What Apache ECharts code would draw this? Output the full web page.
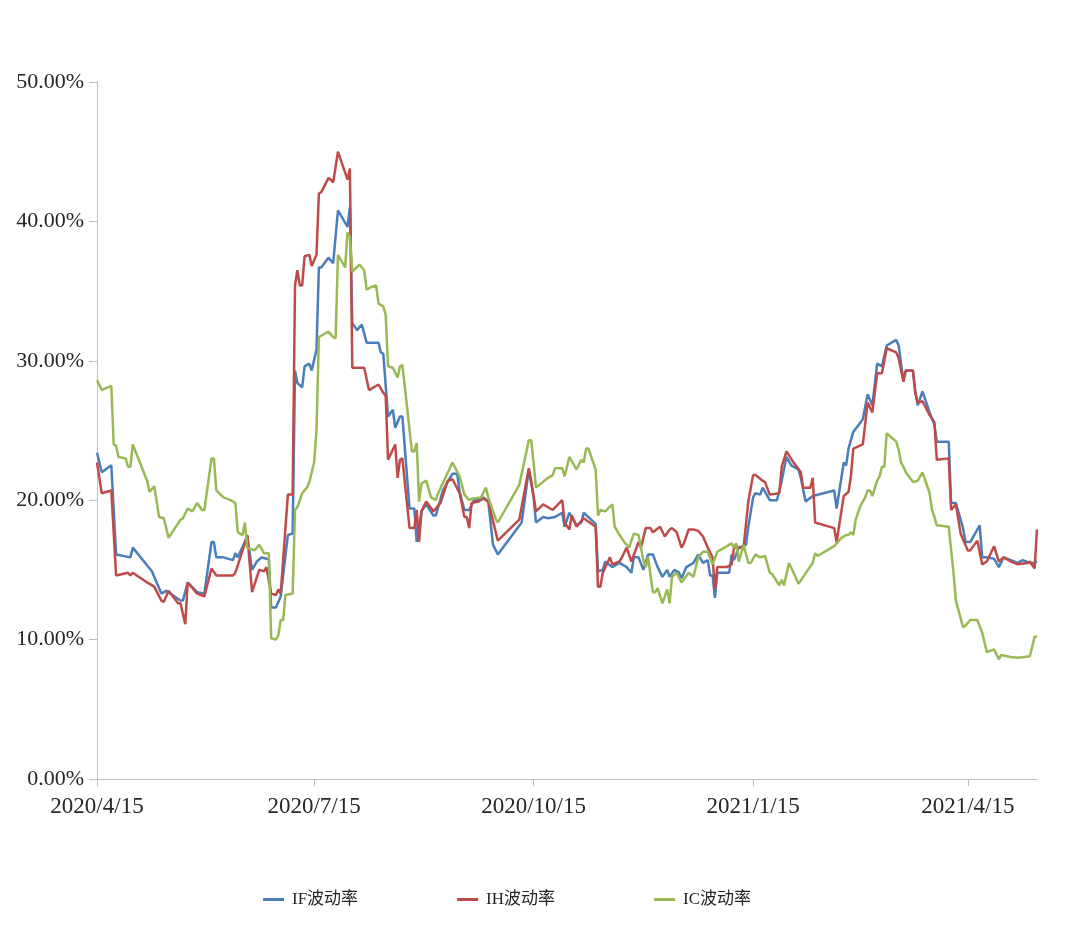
<!DOCTYPE html>
<html>
<head>
<meta charset="utf-8">
<script src="https://cdn.jsdelivr.net/npm/echarts@6/dist/echarts.min.js"></script>
<style>html,body{margin:0;padding:0;background:#fff}#c{width:1080px;height:945px}</style>
</head>
<body>
<div id="c"></div>
<script>
const seriesNames = ['IF波动率', 'IH波动率', 'IC波动率'];
const xTickLabels = ['2020-04-15', '2020-07-15', '2020-10-15', '2021-01-15', '2021-04-15'];
const yTicks = [0, 10, 20, 30, 40, 50];

const ifDates = ['2020-04-15','2020-04-17','2020-04-21','2020-04-23','2020-04-29','2020-04-30','2020-05-08','2020-05-12','2020-05-14','2020-05-20','2020-05-21','2020-05-23','2020-05-27','2020-05-30','2020-06-02','2020-06-03','2020-06-04','2020-06-07','2020-06-11','2020-06-12','2020-06-13','2020-06-17','2020-06-19','2020-06-21','2020-06-23','2020-06-25','2020-06-26','2020-06-27','2020-06-29','2020-07-01','2020-07-04','2020-07-06','2020-07-07','2020-07-08','2020-07-10','2020-07-11','2020-07-13','2020-07-14','2020-07-16','2020-07-17','2020-07-18','2020-07-21','2020-07-23','2020-07-25','2020-07-29','2020-07-30','2020-07-31','2020-08-02','2020-08-04','2020-08-06','2020-08-11','2020-08-12','2020-08-13','2020-08-15','2020-08-17','2020-08-18','2020-08-20','2020-08-21','2020-08-24','2020-08-26','2020-08-27','2020-08-29','2020-08-31','2020-09-03','2020-09-04','2020-09-07','2020-09-11','2020-09-13','2020-09-14','2020-09-16','2020-09-18','2020-09-20','2020-09-23','2020-09-24','2020-09-26','2020-09-28','2020-09-30','2020-10-10','2020-10-13','2020-10-15','2020-10-16','2020-10-19','2020-10-21','2020-10-24','2020-10-27','2020-10-28','2020-10-30','2020-11-02','2020-11-04','2020-11-05','2020-11-10','2020-11-11','2020-11-13','2020-11-14','2020-11-17','2020-11-20','2020-11-23','2020-11-25','2020-11-26','2020-11-28','2020-11-30','2020-12-02','2020-12-04','2020-12-06','2020-12-08','2020-12-10','2020-12-11','2020-12-13','2020-12-15','2020-12-16','2020-12-18','2020-12-21','2020-12-23','2020-12-25','2020-12-27','2020-12-28','2020-12-29','2020-12-30','2020-12-31','2021-01-05','2021-01-06','2021-01-07','2021-01-09','2021-01-12','2021-01-13','2021-01-15','2021-01-16','2021-01-18','2021-01-19','2021-01-22','2021-01-25','2021-01-27','2021-01-29','2021-01-31','2021-02-03','2021-02-04','2021-02-06','2021-02-09','2021-02-18','2021-02-19','2021-02-22','2021-02-23','2021-02-24','2021-02-26','2021-03-02','2021-03-04','2021-03-06','2021-03-08','2021-03-10','2021-03-12','2021-03-16','2021-03-17','2021-03-19','2021-03-20','2021-03-23','2021-03-24','2021-03-25','2021-03-27','2021-03-30','2021-04-01','2021-04-02','2021-04-07','2021-04-08','2021-04-10','2021-04-13','2021-04-14','2021-04-16','2021-04-20','2021-04-21','2021-04-23','2021-04-26','2021-04-28','2021-04-30','2021-05-03','2021-05-06','2021-05-08','2021-05-11','2021-05-13','2021-05-14'];
const ifValues = [23.4,22.0,22.5,16.1,15.9,16.6,14.9,13.3,13.5,12.8,12.8,14.1,13.4,13.3,17.0,17.0,15.9,15.9,15.7,16.2,15.9,17.4,15.0,15.6,15.9,15.8,15.8,12.3,12.3,13.1,17.5,17.6,29.3,28.4,28.1,29.6,29.8,29.3,30.8,36.7,36.7,37.4,37.0,40.8,39.6,41.0,32.7,32.2,32.6,31.3,31.3,30.6,30.5,26.0,26.5,25.2,26.0,26.0,19.4,19.4,17.0,19.2,19.7,18.9,18.9,20.7,21.9,21.9,20.6,19.3,19.3,20.0,20.0,20.2,19.9,16.8,16.1,18.4,22.2,20.2,18.4,18.8,18.7,18.8,19.1,18.1,19.1,18.2,18.4,19.1,18.3,14.9,15.0,15.6,15.2,15.5,15.2,14.8,15.9,15.9,15.0,16.1,16.1,15.2,14.5,15.0,14.5,15.0,14.8,14.4,15.2,15.5,16.1,15.5,15.7,14.6,14.6,13.0,14.8,14.8,16.1,15.7,16.6,16.8,18.1,20.2,20.5,20.4,20.9,20.0,20.0,21.4,23.1,22.5,22.2,21.6,19.9,20.3,20.7,19.4,22.7,22.5,23.7,24.9,25.8,27.6,26.8,29.8,29.6,31.1,31.5,31.1,28.6,29.3,29.3,27.8,26.8,27.8,26.3,25.4,24.2,24.2,19.8,19.8,18.0,17.0,17.0,18.2,15.9,15.9,15.8,15.2,15.9,15.7,15.5,15.7,15.5,15.5,15.6];

const ihDates = ['2020-04-15','2020-04-17','2020-04-21','2020-04-23','2020-04-28','2020-04-29','2020-04-30','2020-05-06','2020-05-09','2020-05-12','2020-05-13','2020-05-15','2020-05-19','2020-05-20','2020-05-22','2020-05-23','2020-05-27','2020-05-30','2020-06-02','2020-06-04','2020-06-07','2020-06-11','2020-06-12','2020-06-16','2020-06-17','2020-06-19','2020-06-22','2020-06-24','2020-06-25','2020-06-27','2020-06-29','2020-06-30','2020-07-01','2020-07-04','2020-07-06','2020-07-07','2020-07-08','2020-07-09','2020-07-10','2020-07-11','2020-07-13','2020-07-14','2020-07-16','2020-07-17','2020-07-18','2020-07-21','2020-07-22','2020-07-23','2020-07-25','2020-07-27','2020-07-29','2020-07-30','2020-07-31','2020-08-05','2020-08-07','2020-08-11','2020-08-13','2020-08-14','2020-08-15','2020-08-18','2020-08-19','2020-08-20','2020-08-21','2020-08-24','2020-08-26','2020-08-27','2020-08-28','2020-08-29','2020-08-31','2020-09-03','2020-09-06','2020-09-09','2020-09-11','2020-09-14','2020-09-16','2020-09-17','2020-09-18','2020-09-19','2020-09-22','2020-09-23','2020-09-25','2020-09-26','2020-09-30','2020-10-09','2020-10-13','2020-10-14','2020-10-16','2020-10-19','2020-10-23','2020-10-27','2020-10-28','2020-10-30','2020-10-31','2020-11-02','2020-11-05','2020-11-10','2020-11-11','2020-11-12','2020-11-13','2020-11-16','2020-11-17','2020-11-20','2020-11-21','2020-11-23','2020-11-25','2020-11-28','2020-11-29','2020-12-01','2020-12-03','2020-12-04','2020-12-07','2020-12-09','2020-12-11','2020-12-12','2020-12-14','2020-12-16','2020-12-17','2020-12-19','2020-12-21','2020-12-23','2020-12-25','2020-12-27','2020-12-29','2020-12-30','2020-12-31','2021-01-04','2021-01-06','2021-01-07','2021-01-08','2021-01-11','2021-01-13','2021-01-15','2021-01-16','2021-01-19','2021-01-20','2021-01-22','2021-01-26','2021-01-27','2021-01-29','2021-02-01','2021-02-04','2021-02-05','2021-02-08','2021-02-09','2021-02-10','2021-02-18','2021-02-19','2021-02-22','2021-02-24','2021-02-25','2021-02-26','2021-03-02','2021-03-04','2021-03-06','2021-03-08','2021-03-10','2021-03-12','2021-03-16','2021-03-17','2021-03-19','2021-03-20','2021-03-23','2021-03-24','2021-03-25','2021-03-27','2021-03-30','2021-04-01','2021-04-02','2021-04-07','2021-04-08','2021-04-10','2021-04-12','2021-04-15','2021-04-16','2021-04-19','2021-04-21','2021-04-23','2021-04-26','2021-04-28','2021-04-30','2021-05-03','2021-05-06','2021-05-10','2021-05-11','2021-05-13','2021-05-14'];
const ihValues = [22.7,20.5,20.7,14.6,14.8,14.6,14.8,14.1,13.8,12.8,12.7,13.5,12.6,12.6,11.1,14.1,13.3,13.1,15.1,14.6,14.6,14.6,14.8,16.9,17.5,13.4,15.0,14.9,15.2,13.3,13.2,13.6,13.3,20.4,20.4,35.4,36.5,35.4,35.4,37.5,37.6,36.8,37.6,42.0,42.1,43.1,43.0,42.8,45.0,44.0,43.0,43.8,29.5,29.5,27.9,28.3,27.7,27.5,22.9,24.0,21.6,22.9,23.0,18.0,18.0,19.3,17.0,19.2,19.9,19.2,19.8,21.4,21.5,20.5,18.8,18.8,18.0,19.8,19.9,20.2,20.0,19.9,17.1,18.6,22.3,21.4,19.2,19.7,19.3,20.0,18.4,17.9,18.9,18.1,18.7,18.1,13.8,13.8,14.8,15.9,15.4,15.6,15.9,16.6,15.6,17.0,16.6,18.0,18.0,17.7,18.1,17.4,17.9,18.0,17.7,16.6,16.9,17.9,17.9,17.8,17.4,16.6,15.9,13.6,15.2,15.2,15.4,16.6,16.6,16.6,19.9,21.8,21.8,21.4,21.3,20.4,20.5,22.4,23.5,22.7,22.0,20.9,20.9,21.6,18.4,18.0,17.0,20.3,20.6,21.7,23.7,24.0,27.0,26.3,29.1,29.1,30.9,30.6,30.2,28.5,29.3,29.3,27.7,27.0,27.1,26.1,25.6,22.9,23.0,19.3,19.7,17.6,16.4,16.4,17.1,15.4,15.6,16.7,15.6,15.9,15.6,15.4,15.5,15.6,15.1,17.9];

const icDates = ['2020-04-15','2020-04-17','2020-04-21','2020-04-22','2020-04-23','2020-04-24','2020-04-27','2020-04-28','2020-04-29','2020-04-30','2020-05-06','2020-05-07','2020-05-09','2020-05-11','2020-05-13','2020-05-15','2020-05-20','2020-05-21','2020-05-23','2020-05-25','2020-05-27','2020-05-29','2020-05-30','2020-06-02','2020-06-03','2020-06-04','2020-06-07','2020-06-10','2020-06-12','2020-06-13','2020-06-15','2020-06-16','2020-06-17','2020-06-20','2020-06-22','2020-06-24','2020-06-26','2020-06-27','2020-06-29','2020-06-30','2020-07-01','2020-07-02','2020-07-03','2020-07-06','2020-07-07','2020-07-08','2020-07-10','2020-07-12','2020-07-13','2020-07-15','2020-07-16','2020-07-17','2020-07-18','2020-07-21','2020-07-23','2020-07-24','2020-07-25','2020-07-28','2020-07-29','2020-07-30','2020-07-31','2020-08-03','2020-08-05','2020-08-06','2020-08-08','2020-08-10','2020-08-11','2020-08-13','2020-08-14','2020-08-15','2020-08-17','2020-08-19','2020-08-20','2020-08-21','2020-08-25','2020-08-26','2020-08-27','2020-08-28','2020-08-29','2020-08-31','2020-09-02','2020-09-04','2020-09-05','2020-09-11','2020-09-14','2020-09-16','2020-09-18','2020-09-19','2020-09-23','2020-09-25','2020-09-26','2020-09-29','2020-09-30','2020-10-09','2020-10-13','2020-10-14','2020-10-15','2020-10-16','2020-10-21','2020-10-23','2020-10-24','2020-10-27','2020-10-28','2020-10-30','2020-11-02','2020-11-04','2020-11-05','2020-11-06','2020-11-07','2020-11-10','2020-11-11','2020-11-12','2020-11-14','2020-11-17','2020-11-18','2020-11-20','2020-11-22','2020-11-24','2020-11-26','2020-11-28','2020-11-30','2020-12-01','2020-12-02','2020-12-04','2020-12-05','2020-12-06','2020-12-08','2020-12-10','2020-12-11','2020-12-12','2020-12-14','2020-12-16','2020-12-19','2020-12-21','2020-12-23','2020-12-25','2020-12-27','2020-12-29','2020-12-31','2021-01-03','2021-01-06','2021-01-07','2021-01-08','2021-01-09','2021-01-11','2021-01-13','2021-01-14','2021-01-16','2021-01-18','2021-01-20','2021-01-22','2021-01-23','2021-01-26','2021-01-27','2021-01-28','2021-01-30','2021-02-01','2021-02-03','2021-02-07','2021-02-09','2021-02-10','2021-02-11','2021-02-18','2021-02-19','2021-02-21','2021-02-23','2021-02-24','2021-02-25','2021-02-26','2021-02-27','2021-03-01','2021-03-03','2021-03-04','2021-03-05','2021-03-06','2021-03-08','2021-03-09','2021-03-10','2021-03-11','2021-03-12','2021-03-16','2021-03-17','2021-03-18','2021-03-19','2021-03-20','2021-03-23','2021-03-25','2021-03-27','2021-03-30','2021-03-31','2021-04-01','2021-04-02','2021-04-07','2021-04-09','2021-04-10','2021-04-13','2021-04-14','2021-04-16','2021-04-19','2021-04-21','2021-04-23','2021-04-26','2021-04-28','2021-04-29','2021-05-03','2021-05-06','2021-05-11','2021-05-13','2021-05-14'];
const icValues = [28.6,27.9,28.2,24.0,23.9,23.1,23.0,22.4,22.4,24.0,21.4,20.6,21.0,18.8,18.7,17.3,18.6,18.7,19.4,19.2,19.8,19.3,19.3,23.0,23.0,20.7,20.2,20.0,19.8,17.7,17.5,18.4,16.6,16.4,16.8,16.2,16.2,10.1,10.0,10.3,11.4,11.4,13.2,13.3,19.3,19.5,20.5,20.9,21.3,22.7,25.0,31.7,31.8,32.1,31.7,31.6,37.6,36.7,39.2,38.9,36.4,36.9,36.5,35.1,35.3,35.4,34.1,33.9,33.3,29.6,29.5,28.8,29.6,29.7,23.5,23.5,24.1,19.9,21.2,21.4,20.2,20.0,20.5,22.7,21.7,20.4,20.0,20.1,20.2,20.9,20.2,18.7,18.4,21.1,24.3,24.3,22.7,20.9,21.6,21.8,22.3,22.3,21.7,23.1,22.2,22.9,22.7,23.7,23.7,22.2,18.9,19.3,19.2,19.7,18.1,17.5,17.0,16.6,17.6,17.5,15.7,15.2,15.9,13.4,13.4,13.7,12.6,13.6,12.6,14.5,14.8,14.1,14.8,14.5,15.9,16.3,16.3,15.4,16.3,16.6,16.9,16.6,16.9,15.6,16.8,15.5,15.5,16.1,15.9,16.0,14.8,14.7,13.9,14.3,13.9,15.5,14.8,14.0,15.0,15.5,16.2,16.0,16.7,16.9,17.3,17.5,17.5,17.7,17.5,18.6,19.6,20.2,20.7,20.7,20.3,21.4,21.7,22.4,22.4,24.8,24.2,23.6,22.7,22.4,22.0,21.3,21.4,22.0,20.5,19.3,18.8,18.2,18.1,14.8,12.8,10.9,11.0,11.4,11.4,10.5,9.1,9.3,8.6,8.9,8.75,8.7,8.8,10.2,10.2];

function ts(s) { const p = s.split('-').map(Number); return new Date(p[0], p[1] - 1, p[2]).getTime(); }
function pairs(dates, values) { return dates.map((d, i) => [ts(d), values[i]]); }

const font = '"Liberation Serif", "Noto Sans CJK SC", serif';
const axisColor = '#bfbfbf';
const colors = ['#4A7EBB', '#BE4B48', '#98B954'];
const tickPositions = xTickLabels.map(ts);

const chart = echarts.init(document.getElementById('c'), null, { renderer: 'canvas' });
chart.setOption({
  animation: false,
  backgroundColor: '#ffffff',
  color: colors,
  grid: { left: 97, right: 43, top: 82, bottom: 166, containLabel: false },
  legend: {
    left: 258, top: 886,
    icon: 'rect', itemWidth: 21, itemHeight: 3, itemGap: 99,
    textStyle: { fontFamily: font, fontSize: 17, color: '#262626', padding: [0, 0, 0, 3] },
    data: seriesNames
  },
  xAxis: {
    type: 'value',
    min: ts('2020-04-15'),
    max: ts('2021-05-14'),
    axisLine: { show: true, lineStyle: { color: axisColor, width: 1 } },
    axisTick: { show: true, length: 7, lineStyle: { color: axisColor }, customValues: tickPositions },
    axisLabel: {
      fontFamily: font, fontSize: 23, color: '#262626', margin: 16,
      customValues: tickPositions,
      formatter: function (v) { const d = new Date(v); return d.getFullYear() + '/' + (d.getMonth() + 1) + '/' + d.getDate(); }
    },
    splitLine: { show: false }
  },
  yAxis: {
    type: 'value',
    min: yTicks[0], max: yTicks[yTicks.length - 1], interval: 10,
    axisLine: { show: true, lineStyle: { color: axisColor, width: 1 } },
    axisTick: { show: true, length: 8, lineStyle: { color: axisColor } },
    axisLabel: { fontFamily: font, fontSize: 22, color: '#262626', margin: 13, formatter: v => v.toFixed(2) + '%' },
    splitLine: { show: false }
  },
  series: [
    { name: seriesNames[0], type: 'line', data: pairs(ifDates, ifValues), showSymbol: false, symbol: 'none', lineStyle: { width: 2.5 } },
    { name: seriesNames[1], type: 'line', data: pairs(ihDates, ihValues), showSymbol: false, symbol: 'none', lineStyle: { width: 2.5 } },
    { name: seriesNames[2], type: 'line', data: pairs(icDates, icValues), showSymbol: false, symbol: 'none', lineStyle: { width: 2.5 } }
  ]
});
</script>
</body>
</html>
